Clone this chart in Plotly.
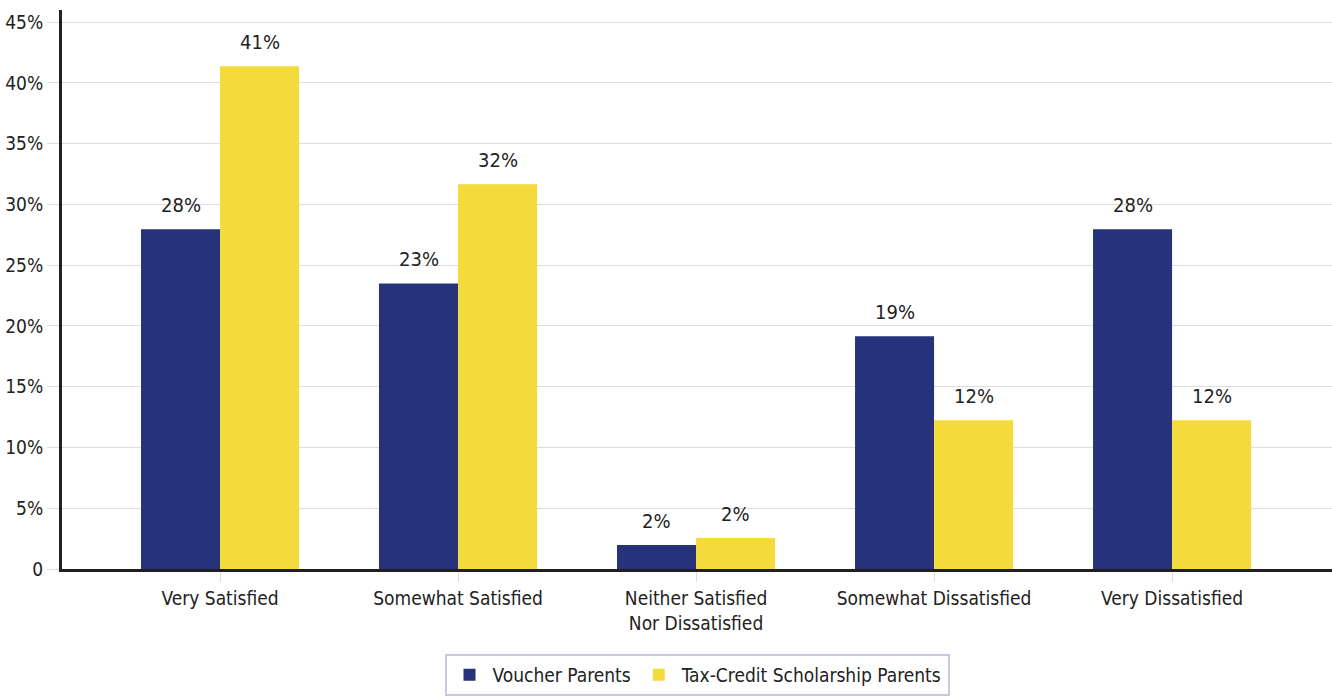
import plotly.graph_objects as go

categories = ["Very Satisfied", "Somewhat Satisfied", "Neither Satisfied<br>Nor Dissatisfied",
              "Somewhat Dissatisfied", "Very Dissatisfied"]
voucher = [27.96, 23.5, 1.97, 19.16, 27.96]
taxcredit = [41.37, 31.66, 2.55, 12.25, 12.25]
voucher_labels = ["28%", "23%", "2%", "19%", "28%"]
taxcredit_labels = ["41%", "32%", "2%", "12%", "12%"]
tick_vals = [0, 5, 10, 15, 20, 25, 30, 35, 40, 45]
tick_text = ["0", "5%", "10%", "15%", "20%", "25%", "30%", "35%", "40%", "45%"]

FONT = "Liberation Sans Narrow, DejaVu Sans Condensed, Arial Narrow, sans-serif"
NAVY = "#263279"
YELLOW = "#F4DA3A"

fig = go.Figure()
fig.add_trace(go.Bar(x=categories, y=voucher, name="Voucher Parents",
                     marker=dict(color=NAVY, line=dict(width=0))))
fig.add_trace(go.Bar(x=categories, y=taxcredit, name="Tax-Credit Scholarship Parents",
                     marker=dict(color=YELLOW, line=dict(width=0))))

for i, c in enumerate(categories):
    fig.add_annotation(x=c, y=voucher[i], text=voucher_labels[i], showarrow=False,
                       xshift=-39.5, yshift=24, yanchor="middle",
                       font=dict(family=FONT, size=20, color="#222"))
    fig.add_annotation(x=c, y=taxcredit[i], text=taxcredit_labels[i], showarrow=False,
                       xshift=39.5, yshift=24, yanchor="middle",
                       font=dict(family=FONT, size=20, color="#222"))

fig.update_layout(
    width=1332, height=696,
    margin=dict(l=62, r=0, t=10, b=127),
    paper_bgcolor="white", plot_bgcolor="white",
    barmode="group", bargap=0.336, bargroupgap=0,
    font=dict(family=FONT, size=19, color="#222"),
    showlegend=True,
    legend=dict(orientation="h", x=0.5, xanchor="center", y=-0.152, yanchor="top",
                bordercolor="#CBC7E0", borderwidth=2, bgcolor="white",
                font=dict(family=FONT, size=19, color="#222"),
                itemwidth=36, traceorder="normal"),
    xaxis=dict(range=[-0.664, 4.672], showgrid=False, showline=True, linecolor="#231F20",
               linewidth=3, ticks="outside", ticklen=10, tickcolor="#DDDDDD", tickwidth=1,
               tickfont=dict(family=FONT, size=19, color="#222"), zeroline=False,
               automargin=False),
    yaxis=dict(range=[0, 46], tickvals=tick_vals, ticktext=tick_text, showgrid=True,
               gridcolor="#DDDDDD", gridwidth=1, showline=True, linecolor="#231F20",
               linewidth=3, ticks="outside", ticklen=12, tickcolor="#DDDDDD",
               tickfont=dict(family=FONT, size=19, color="#222"), zeroline=False,
               automargin=False),
)

fig.write_html("out.html", config={"displayModeBar": False},
               post_script="document.body.style.margin='0';document.body.style.overflow='hidden';")
